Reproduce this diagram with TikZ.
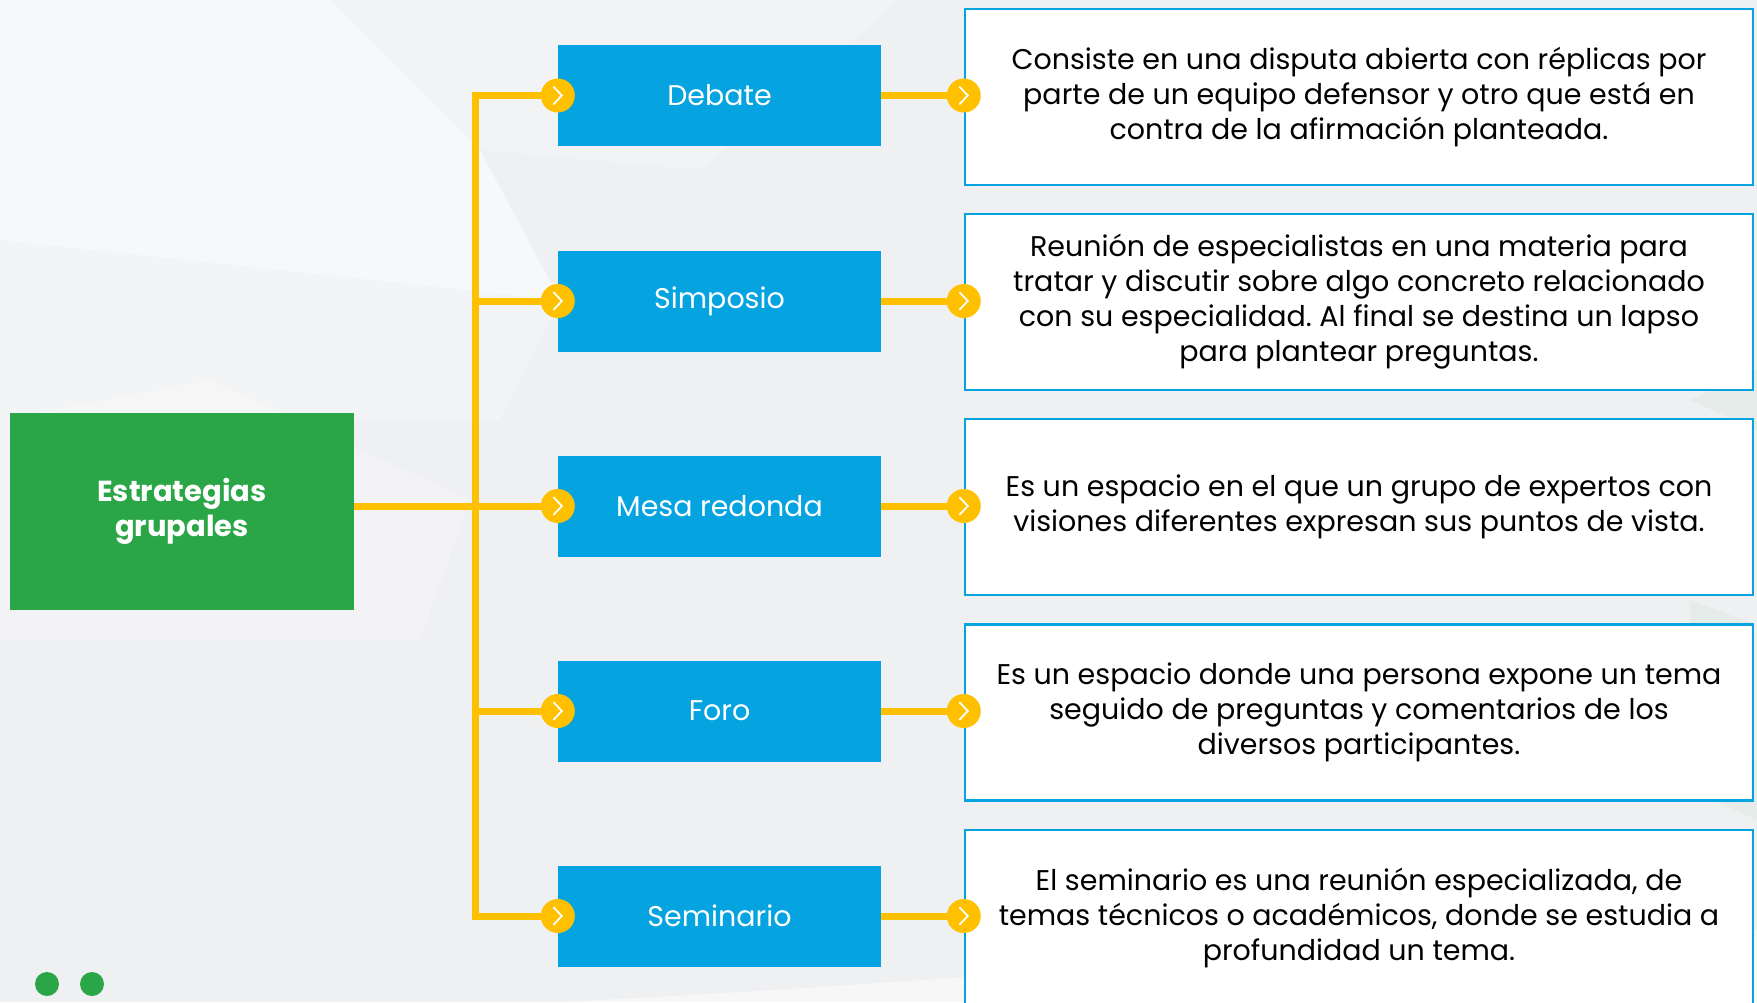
\documentclass[tikz,border=0pt]{standalone}
\usepackage{fontspec}
\setmainfont{Poppins}
\frenchspacing
\definecolor{bluebox}{RGB}{6,163,225}
\definecolor{greenbox}{RGB}{43,166,70}
\definecolor{yel}{RGB}{255,192,0}
\definecolor{bgc}{RGB}{239,240,242}
\begin{document}
\begin{tikzpicture}[x=1pt,y=-1pt,
  topic/.style={fill=bluebox, minimum width=323pt, minimum height=101pt, inner sep=0pt,
    text=white, font=\fontsize{28.5}{32}\selectfont},
  desc/.style={draw=bluebox, line width=2.5pt, fill=white, minimum width=788pt,
    minimum height=176pt, inner sep=0pt, align=center, font=\fontsize{28.5}{35}\selectfont},
  root/.style={fill=greenbox, minimum width=344pt, minimum height=197pt, inner sep=0pt,
    text=white, align=center, font=\fontsize{29}{35}\selectfont\bfseries},
  chev/.style={circle, fill=yel, minimum size=34pt, inner sep=0pt,
    path picture={\draw[white, line width=1.8pt, line cap=round, line join=miter]
      ([xshift=-4pt,yshift=8.5pt]path picture bounding box.center) -- ++(8pt,-8.5pt) -- ++(-8pt,-8.5pt);}},
  yline/.style={draw=yel, line width=7pt}
]
\useasboundingbox (0,0) rectangle (1757,1002);
\clip (0,0) rectangle (1757,1002);
% background
\fill[bgc] (0,0) rectangle (1757,1002);
\fill[white, opacity=0.55] (0,0) -- (330,0) -- (480,150) -- (560,300) -- (0,240) -- cycle;
\fill[white, opacity=0.3] (0,240) -- (560,300) -- (500,420) -- (0,420) -- cycle;
\fill[white, opacity=0.25] (0,420) -- (210,380) -- (470,500) -- (420,640) -- (0,640) -- cycle;
\fill[white, opacity=0.2] (330,0) -- (900,0) -- (700,170) -- (480,150) -- cycle;
\fill[white, opacity=0.5] (560,1002) .. controls (900,985) and (1200,960) .. (1500,930) -- (1757,930) -- (1757,1002) -- cycle;
\fill[greenbox, opacity=0.05] (1690,400) -- (1757,370) -- (1757,430) -- cycle;
\fill[greenbox, opacity=0.05] (1690,600) -- (1757,625) -- (1690,650) -- cycle;
\fill[greenbox, opacity=0.05] (1690,790) -- (1757,760) -- (1757,820) -- cycle;

% root
\node[root] (g) at (182,511) {Estrategias\\grupales};

% topics
\node[topic] (t1) at (719.5,95.5) {Debate};
\node[topic] (t2) at (719.5,301) {Simposio};
\node[topic] (t3) at (719.5,506) {Mesa redonda};
\node[topic] (t4) at (719.5,711) {Foro};
\node[topic] (t5) at (719.5,916) {Seminario};

% descriptions
\node[desc] (d1) at (1359,97) {Consiste en una disputa abierta con réplicas por\\parte de un equipo defensor y otro que está en\\contra de la afirmación planteada.};
\node[desc] (d2) at (1359,302) {Reunión de especialistas en una materia para\\tratar y discutir sobre algo concreto relacionado\\con su especialidad. Al final se destina un lapso\\para plantear preguntas.};
\node[desc] (d3) at (1359,507) {Es un espacio en el que un grupo de expertos con\\visiones diferentes expresan sus puntos de vista.};
\node[desc] (d4) at (1359,712.5) {Es un espacio donde una persona expone un tema\\seguido de preguntas y comentarios de los\\diversos participantes.};
\node[desc] (d5) at (1359,918) {El seminario es una reunión especializada, de\\temas técnicos o académicos, donde se estudia a\\profundidad un tema.};

% chevron circles
\foreach \i in {1,...,5}{
  \node[chev] (a\i) at (t\i.west) {};
  \node[chev] (b\i) at (d\i.west |- t\i.west) {};
}

% trunk coordinates
\coordinate (j1) at (475,95.5);
\coordinate (j2) at (475,301);
\coordinate (j3) at (475,506);
\coordinate (j4) at (475,711);
\coordinate (j5) at (475,916);

% connectors
\draw[yline] (a1) -- (j1) -- (j5) -- (a5);
\draw[yline] (j2) -- (a2);
\draw[yline] (j4) -- (a4);
\draw[yline] (g.east |- a3) -- (a3);
\foreach \i in {1,...,5}{
  \draw[yline] (t\i.east) -- (b\i);
}

% decorative dots
\fill[greenbox] (47,984) circle (12);
\fill[greenbox] (92,984) circle (12);
\end{tikzpicture}
\end{document}
